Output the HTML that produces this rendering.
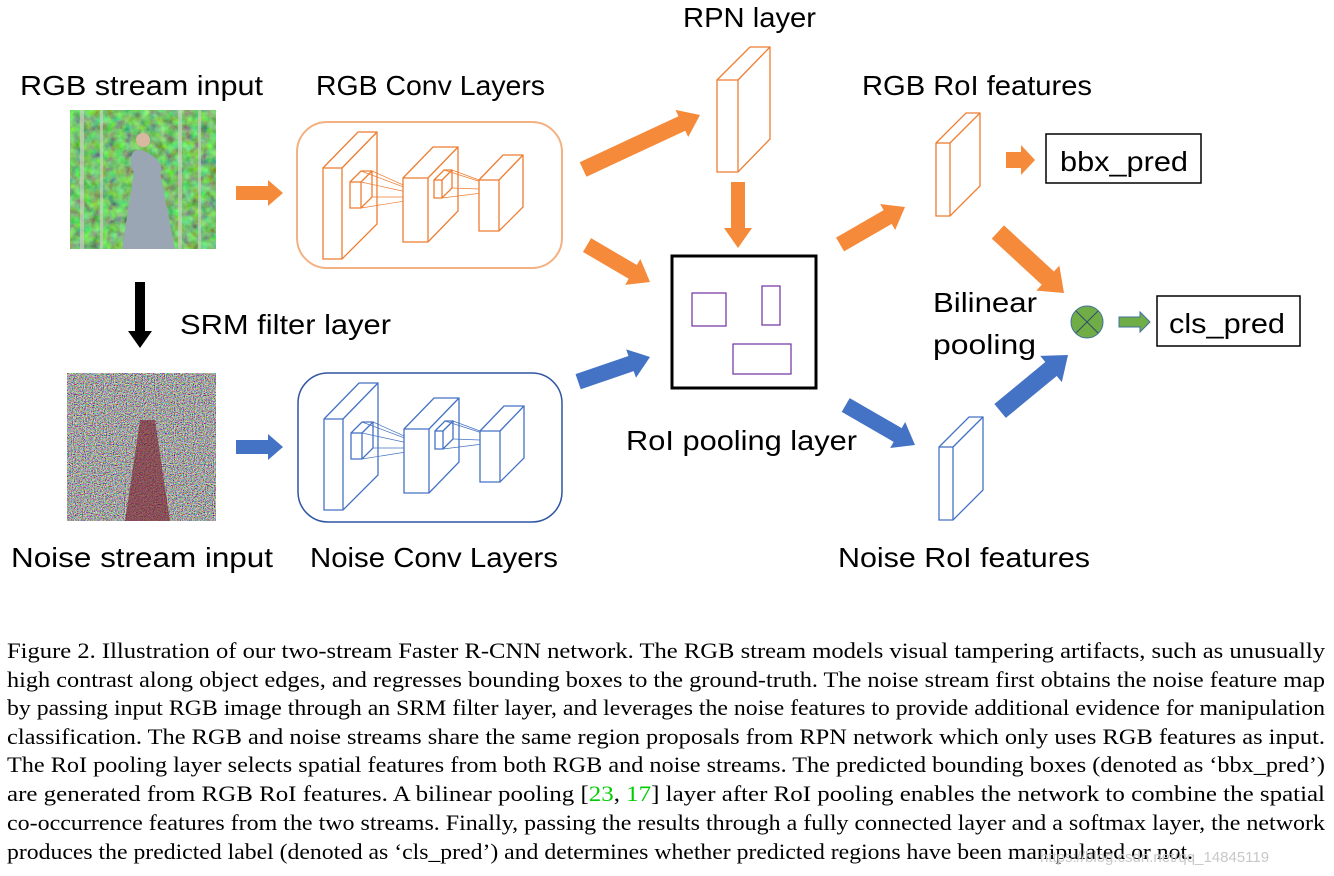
<!DOCTYPE html>
<html><head><meta charset="utf-8"><style>
html,body{margin:0;padding:0;background:#fff;}
svg{display:block}
.l{font-family:"Liberation Sans",sans-serif;font-size:28px;fill:#000}
.c{font-family:"Liberation Serif",serif;font-size:22px;fill:#000}
</style></head><body>
<svg width="1334" height="876" viewBox="0 0 1334 876" xmlns="http://www.w3.org/2000/svg">
<defs>
<filter id="nz" x="0" y="0" width="100%" height="100%"><feTurbulence type="fractalNoise" baseFrequency="0.9" numOctaves="2" seed="3"/><feColorMatrix type="matrix" values="2 0 0 0 -0.6  0 2 0 0 -0.6  0 0 2 0 -0.6  0 0 0 0 1"/></filter>
<filter id="tr" x="0" y="0" width="100%" height="100%"><feTurbulence type="fractalNoise" baseFrequency="0.12" numOctaves="3" seed="7"/><feColorMatrix type="matrix" values="0.4 0 0 0 -0.02  0 1.1 0 0 0.0  0 0 0.4 0 -0.05  0 0 0 0 1"/></filter>
<g id="conv" fill="#fff" stroke-width="1.3">
 <polygon points="323,168 358,132 377,132 377,224 342,259 323,259"/>
 <line x1="323" y1="168" x2="342" y2="168"/><line x1="342" y1="168" x2="342" y2="259"/>
 <line x1="342" y1="168" x2="377" y2="132"/>
 <polygon points="350,182 361,171 372,171 372,197 361,208 350,208"/>
 <line x1="350" y1="182" x2="361" y2="182"/><line x1="361" y1="182" x2="361" y2="208"/><line x1="361" y1="182" x2="372" y2="171"/>
 <g stroke-width="0.7"><line x1="361" y1="171" x2="430" y2="197"/><line x1="372" y1="171" x2="430" y2="197"/><line x1="372" y1="197" x2="430" y2="197"/><line x1="361" y1="208" x2="430" y2="197"/><line x1="361" y1="182" x2="430" y2="197"/></g>
 <polygon points="403,178 433,147 458,147 458,211 428,242 403,242"/>
 <line x1="428" y1="178" x2="403" y2="178"/><line x1="428" y1="178" x2="428" y2="242"/><line x1="428" y1="178" x2="458" y2="147"/>
 <polygon points="434,180 444,170 452,170 452,188 442,198 434,198"/>
 <line x1="442" y1="180" x2="434" y2="180"/><line x1="442" y1="180" x2="442" y2="198"/><line x1="442" y1="180" x2="452" y2="170"/>
 <g stroke-width="0.7"><line x1="444" y1="170" x2="506" y2="190"/><line x1="452" y1="170" x2="506" y2="190"/><line x1="452" y1="188" x2="506" y2="190"/><line x1="442" y1="198" x2="506" y2="190"/></g>
 <polygon points="479,180 503,155 523,155 523,207 499,231 479,231"/>
 <line x1="499" y1="180" x2="479" y2="180"/><line x1="499" y1="180" x2="499" y2="231"/><line x1="499" y1="180" x2="523" y2="155"/>
</g>
<g id="roi" fill="#fff" stroke-width="1.3">
 <polygon points="0,30 30,0 44,0 44,73 14,103 0,103"/>
 <line x1="0" y1="30" x2="14" y2="30"/><line x1="14" y1="30" x2="14" y2="103"/><line x1="14" y1="30" x2="44" y2="0"/>
</g>
</defs>

<!-- images -->
<rect x="70" y="110" width="146" height="139" filter="url(#tr)"/>
<g fill="#c8d0c0" opacity="0.7"><rect x="80" y="110" width="4" height="139"/><rect x="100" y="110" width="3" height="139"/><rect x="178" y="110" width="4" height="139"/><rect x="198" y="110" width="3" height="139"/></g>
<path d="M138,150 C130,150 128,165 134,172 L122,249 L175,249 L160,172 C166,165 150,150 138,150Z" fill="#9aa6b4"/>
<circle cx="143" cy="140" r="7" fill="#d8b8a0"/>
<rect x="67" y="373" width="149" height="148" filter="url(#nz)"/>
<path d="M140,420 L125,521 L170,521 L155,420Z" fill="#7a1a2a" opacity="0.6"/>

<!-- boxes -->
<rect x="297" y="122" width="265" height="146" rx="30" fill="none" stroke="#f4b183" stroke-width="2"/>
<rect x="298" y="373" width="264" height="149" rx="30" fill="none" stroke="#2f55a4" stroke-width="1.5"/>
<use href="#conv" stroke="#ed7d31"/>
<use href="#conv" stroke="#4472c4" transform="translate(1,251)"/>

<rect x="672" y="256" width="144" height="132" fill="#fff" stroke="#000" stroke-width="3"/>
<g fill="none" stroke="#7030a0" stroke-width="1.2">
<rect x="692" y="293" width="34" height="33"/><rect x="762" y="286" width="18" height="39"/><rect x="733" y="344" width="58" height="30"/>
</g>
<g fill="#fff" stroke="#ed7d31" stroke-width="1.3">
 <polygon points="717,80 750,47 770,47 770,139 738,172 717,172"/>
 <line x1="717" y1="80" x2="738" y2="80"/><line x1="738" y1="80" x2="738" y2="172"/><line x1="738" y1="80" x2="770" y2="47"/>
</g>
<use href="#roi" stroke="#ed7d31" transform="translate(936,113)"/>
<use href="#roi" stroke="#4472c4" transform="translate(939,417)"/>

<rect x="1046" y="134" width="155" height="49" fill="#fff" stroke="#000" stroke-width="1.5"/>
<rect x="1157" y="296" width="143" height="50" fill="#fff" stroke="#000" stroke-width="1.5"/>
<circle cx="1087" cy="322" r="16" fill="#70ad47" stroke="#41719c" stroke-width="1"/>
<line x1="1076" y1="311" x2="1098" y2="333" stroke="#2f4a6b" stroke-width="1"/><line x1="1098" y1="311" x2="1076" y2="333" stroke="#2f4a6b" stroke-width="1"/>

<g fill="#f58a3a">
<g transform="translate(283,193)"><polygon points="0,0 -15,-13 -15,-7 -47,-7 -47,7 -15,7 -15,13"/></g>
<g transform="translate(700,115) rotate(-25)"><polygon points="0,0 -20,-15 -20,-8 -129,-8 -129,8 -20,8 -20,15"/></g>
<g transform="translate(650,282) rotate(30.4)"><polygon points="0,0 -20,-15 -20,-8 -73,-8 -73,8 -20,8 -20,15"/></g>
<g transform="translate(738,248) rotate(90)"><polygon points="0,0 -20,-14 -20,-7 -66,-7 -66,7 -20,7 -20,14"/></g>
<g transform="translate(905,207) rotate(-30)"><polygon points="0,0 -20,-15 -20,-8 -75,-8 -75,8 -20,8 -20,15"/></g>
<g transform="translate(1035,160)"><polygon points="0,0 -14,-15 -14,-8 -29,-8 -29,8 -14,8 -14,15"/></g>
<g transform="translate(1064,293) rotate(42.7)"><polygon points="0,0 -22,-17 -22,-9 -90,-9 -90,9 -22,9 -22,17"/></g>
</g>
<g fill="#4472c4">
<g transform="translate(283,447)"><polygon points="0,0 -15,-13 -15,-7 -47,-7 -47,7 -15,7 -15,13"/></g>
<g transform="translate(650,357) rotate(-19)"><polygon points="0,0 -20,-15 -20,-8 -76,-8 -76,8 -20,8 -20,15"/></g>
<g transform="translate(915,445) rotate(30)"><polygon points="0,0 -20,-15 -20,-8 -80,-8 -80,8 -20,8 -20,15"/></g>
<g transform="translate(1068,355) rotate(-39.5)"><polygon points="0,0 -22,-17 -22,-9 -88,-9 -88,9 -22,9 -22,17"/></g>
</g>
<g transform="translate(140,348) rotate(90)"><polygon points="0,0 -17,-12 -17,-5 -66,-5 -66,5 -17,5 -17,12" fill="#000"/></g>
<g transform="translate(1150,322)"><polygon points="0,0 -10,-10 -10,-5 -31,-5 -31,5 -10,5 -10,10" fill="#70ad47" stroke="#41719c" stroke-width="1"/></g>

<text class="l" x="20" y="95" textLength="243" lengthAdjust="spacingAndGlyphs">RGB stream input</text>
<text class="l" x="316" y="95" textLength="229" lengthAdjust="spacingAndGlyphs">RGB Conv Layers</text>
<text class="l" x="683" y="27" textLength="133" lengthAdjust="spacingAndGlyphs">RPN layer</text>
<text class="l" x="862" y="95" textLength="230" lengthAdjust="spacingAndGlyphs">RGB RoI features</text>
<text class="l" x="180" y="334" textLength="211" lengthAdjust="spacingAndGlyphs">SRM filter layer</text>
<text class="l" x="626" y="450" textLength="231" lengthAdjust="spacingAndGlyphs">RoI pooling layer</text>
<text class="l" x="933" y="312" textLength="104" lengthAdjust="spacingAndGlyphs">Bilinear</text>
<text class="l" x="933" y="354" textLength="103" lengthAdjust="spacingAndGlyphs">pooling</text>
<text class="l" x="11" y="567" textLength="262" lengthAdjust="spacingAndGlyphs">Noise stream input</text>
<text class="l" x="310" y="567" textLength="248" lengthAdjust="spacingAndGlyphs">Noise Conv Layers</text>
<text class="l" x="838" y="567" textLength="252" lengthAdjust="spacingAndGlyphs">Noise RoI features</text>
<text class="l" x="1060" y="171" textLength="128" lengthAdjust="spacingAndGlyphs">bbx_pred</text>
<text class="l" x="1169" y="333" textLength="116" lengthAdjust="spacingAndGlyphs">cls_pred</text>

<g class="c">
<text x="7" y="658" textLength="1318" lengthAdjust="spacingAndGlyphs">Figure 2. Illustration of our two-stream Faster R-CNN network.  The RGB stream models visual tampering artifacts, such as unusually</text>
<text x="7" y="687" textLength="1318" lengthAdjust="spacingAndGlyphs">high contrast along object edges, and regresses bounding boxes to the ground-truth. The noise stream first obtains the noise feature map</text>
<text x="7" y="715" textLength="1318" lengthAdjust="spacingAndGlyphs">by passing input RGB image through an SRM filter layer, and leverages the noise features to provide additional evidence for manipulation</text>
<text x="7" y="744" textLength="1318" lengthAdjust="spacingAndGlyphs">classification.  The RGB and noise streams share the same region proposals from RPN network which only uses RGB features as input.</text>
<text x="7" y="772" textLength="1318" lengthAdjust="spacingAndGlyphs">The RoI pooling layer selects spatial features from both RGB and noise streams.  The predicted bounding boxes (denoted as ‘bbx_pred’)</text>
<text x="7" y="801" textLength="1318" lengthAdjust="spacingAndGlyphs">are generated from RGB RoI features.  A bilinear pooling [<tspan fill="#00cc00">23</tspan>, <tspan fill="#00cc00">17</tspan>] layer after RoI pooling enables the network to combine the spatial</text>
<text x="7" y="830" textLength="1318" lengthAdjust="spacingAndGlyphs">co-occurrence features from the two streams. Finally, passing the results through a fully connected layer and a softmax layer, the network</text>
<text x="7" y="859" textLength="1186" lengthAdjust="spacingAndGlyphs">produces the predicted label (denoted as ‘cls_pred’) and determines whether predicted regions have been manipulated or not.</text>
</g>
<text x="1040" y="862" font-family="Liberation Sans,sans-serif" font-size="15" fill="#c8c8c8">https://blog.csdn.net/qq_14845119</text>
</svg>
</body></html>
